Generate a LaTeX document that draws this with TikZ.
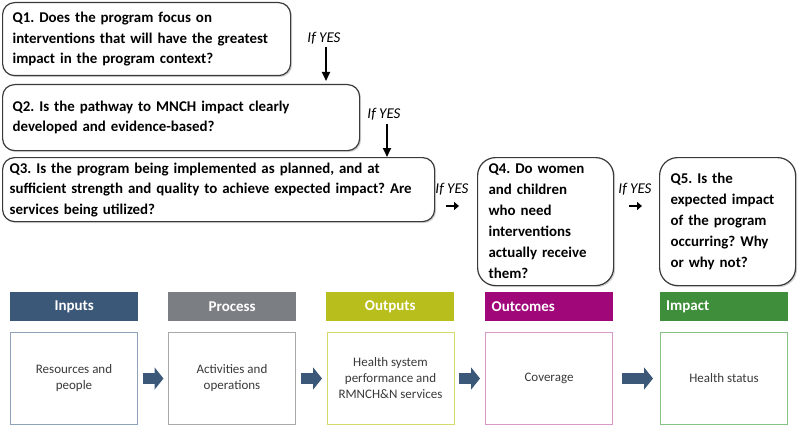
\documentclass[tikz,border=0pt]{standalone}
\usepackage{fontspec}
\setmainfont{Carlito}
\usetikzlibrary{arrows.meta,shadows}
\definecolor{qborder}{HTML}{3A3A3A}
\definecolor{inblue}{HTML}{3B5878}
\definecolor{procgray}{HTML}{7B7F83}
\definecolor{outyel}{HTML}{B8BE1B}
\definecolor{outcmag}{HTML}{A0087A}
\definecolor{impgreen}{HTML}{3F8E3B}
\definecolor{inb}{HTML}{8EA2B8}
\definecolor{procb}{HTML}{A9A9A9}
\definecolor{outb}{HTML}{D6DA6C}
\definecolor{outcb}{HTML}{D999C6}
\definecolor{impb}{HTML}{85C283}
\definecolor{ctext}{HTML}{3A3A3A}
\begin{document}
\frenchspacing
\begin{tikzpicture}[x=1pt,y=-1pt,
  qbox/.style={draw=qborder, line width=1.2pt, fill=white, rounded corners=12pt,
    align=left, font=\frenchspacing\bfseries\fontsize{14.9}{20.5}\selectfont,
    inner xsep=10pt, inner ysep=0pt, anchor=north west,
    drop shadow={shadow xshift=1.5pt, shadow yshift=-1.5pt, opacity=0.35}},
  qtall/.style={qbox, rounded corners=18pt, inner xsep=11pt, font=\frenchspacing\bfseries\fontsize{14.9}{21}\selectfont},
  hdr/.style={fill=#1, text=white, font=\bfseries\fontsize{15}{18}\selectfont,
    minimum width=128pt, minimum height=28.5pt, inner sep=0pt, anchor=north west},
  hdrl/.style={hdr=#1, text width=115pt, inner xsep=6.5pt, align=left},
  cbox/.style={draw=#1, line width=1pt, fill=white, minimum width=127pt, minimum height=92pt,
    align=center, font=\fontsize{13}{16}\selectfont, text=ctext, anchor=north west, inner sep=2pt},
  barrow/.style={draw=inblue, line width=11pt, -{Triangle[width=22pt,length=9pt]}},
  varrow/.style={draw=black, line width=2pt, -{Triangle[width=8pt,length=9pt]}},
  harrow/.style={draw=black, line width=2.2pt, -{Triangle[width=8pt,length=5pt]}},
  ifyes/.style={font=\itshape\fontsize{15}{18}\selectfont, inner sep=0pt}
]
\useasboundingbox (0,0) rectangle (800,425);

% question boxes
\node[qbox, text width=268pt, minimum height=73pt] (q1) at (2,2)
  {Q1. Does the program focus on\\interventions that will have the greatest\\impact in the program context?};
\node[qbox, text width=337pt, minimum height=66pt] (q2) at (2,84)
  {Q2. Is the pathway to MNCH impact clearly\\developed and evidence-based?};
\node[qbox, text width=418pt, inner xsep=7pt, minimum height=64pt] (q3) at (2,157)
  {Q3. Is the program being implemented as planned, and at\\sufficient strength and quality to achieve expected impact? Are\\services being utilized?};
\node[qtall, text width=114pt, minimum height=128pt] (q4) at (477,157)
  {Q4. Do women\\and children\\who need\\interventions\\actually receive\\them?};
\node[qtall, text width=114pt, minimum height=128pt] (q5) at (659,157)
  {Q5. Is the\\expected impact\\of the program\\occurring? Why\\or why not?};

% If YES labels
\node[ifyes] (y1) at (324,38) {If YES};
\node[ifyes] (y2) at (384,114) {If YES};
\node[ifyes] (y3) at (452,189) {If YES};
\node[ifyes] (y4) at (635,189) {If YES};

\coordinate (a1s) at (326,47);
\coordinate (a2s) at (387,124);
\coordinate (a3s) at (446,206);
\coordinate (a3e) at (459,206);
\coordinate (a4s) at (629,206);
\coordinate (a4e) at (642,206);
\draw[varrow, shorten >=3pt] (a1s) -- (a1s |- q2.north);
\draw[varrow] (a2s) -- (a2s |- q3.north);
\draw[harrow] (a3s) -- (a3e);
\draw[harrow] (a4s) -- (a4e);

% headers
\node[hdr=inblue] (h1) at (10,292) {Inputs};
\node[hdr=procgray] (h2) at (168,292) {Process};
\node[hdr=outyel] (h3) at (326,292) {Outputs};
\node[hdrl=outcmag] (h4) at (485,292) {Outcomes};
\node[hdrl=impgreen] (h5) at (659.5,292) {Impact};

% content boxes
\node[cbox=inb] (c1) at (10,332) {Resources and\\people};
\node[cbox=procb] (c2) at (168,332) {Activities and\\operations};
\node[cbox=outb] (c3) at (326.5,332) {Health system\\performance and\\RMNCH\&N services};
\node[cbox=outcb] (c4) at (485,332) {Coverage};
\node[cbox=impb] (c5) at (660,332) {Health status};

\draw[barrow, shorten <=5pt, shorten >=4.5pt] (c1.east) -- (c2.west);
\draw[barrow, shorten <=4.5pt, shorten >=4.5pt] (c2.east) -- (c3.west);
\draw[barrow, shorten <=4pt, shorten >=5pt] (c3.east) -- (c4.west);
\draw[barrow, shorten <=9pt, shorten >=7pt] (c4.east) -- (c5.west);
\end{tikzpicture}
\end{document}
